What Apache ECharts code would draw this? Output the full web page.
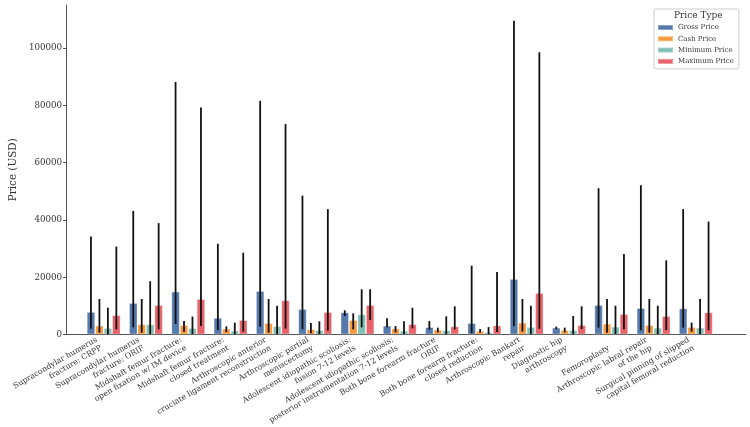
<!DOCTYPE html>
<html>
<head>
<meta charset="utf-8">
<script src="https://cdn.jsdelivr.net/npm/echarts@6/dist/echarts.min.js"></script>
<style>
  html, body { margin: 0; padding: 0; background: #fff; }
  #priceChart { width: 750px; height: 427px; }
</style>
</head>
<body>
<div id="priceChart"></div>
<script>
const categories = [
  'Supracondylar humerus\nfracture: CRPP',
  'Supracondylar humerus\nfracture: ORIF',
  'Midshaft femur fracture:\nopen fixation w/ IM device',
  'Midshaft femur fracture:\nclosed treatment',
  'Arthroscopic anterior\ncruciate ligament reconstruction',
  'Arthroscopic partial\nmeniscectomy',
  'Adolescent idiopathic scoliosis:\nfusion 7-12 levels',
  'Adolescent idiopathic scoliosis:\nposterior instrumentation 7-12 levels',
  'Both bone forearm fracture\nORIF',
  'Both bone forearm fracture:\nclosed reduction',
  'Arthroscopic Bankart\nrepair',
  'Diagnostic hip\narthroscopy',
  'Femoroplasty',
  'Arthroscopic labral repair\nof the hip',
  'Surgical pinning of slipped\ncapital femoral reduction'
]
const seriesNames = ['Gross Price', 'Cash Price', 'Minimum Price', 'Maximum Price']
const colors = ['#5679ab', '#f59a3e', '#80bfb6', '#e8646b']

// bar heights
const gross = [7900, 11000, 15000, 5800, 15200, 8900, 7750, 3100, 2600, 4000, 19400, 2400, 10300, 9250, 9150]
const cash = [3100, 3550, 3300, 2050, 4000, 1900, 5050, 2150, 1700, 1200, 4150, 1550, 3800, 3300, 2600]
const minimum = [2250, 3550, 2250, 1350, 2950, 1550, 7050, 1350, 1450, 850, 2600, 1550, 2750, 2400, 2400]
const maximum = [6800, 10300, 12400, 5050, 11950, 7850, 10300, 3650, 2850, 3200, 14500, 3300, 7150, 6450, 7750]

// error bar ends
const grossLow = [2000, 2500, 3650, 1550, 2750, 1800, 6450, 2500, 1700, 400, 2950, 1900, 2400, 1450, 2400]
const grossHigh = [34200, 43200, 88200, 31700, 81600, 48500, 8450, 5650, 4700, 24050, 109600, 2750, 51100, 52150, 43800]
const cashLow = [650, 600, 1000, 850, 650, 400, 1800, 750, 750, 650, 1000, 750, 650, 650, 1000]
const cashHigh = [12400, 12400, 4700, 2850, 12400, 4000, 7400, 2950, 2400, 1900, 12400, 2400, 12400, 12400, 4150]
const minLow = [100, 100, 100, 100, 100, 100, 2500, 100, 100, 100, 100, 100, 100, 100, 100]
const minHigh = [9350, 18600, 6250, 4150, 10050, 4600, 15800, 4600, 6350, 2600, 10050, 6450, 10050, 10050, 12400]
const maxLow = [1800, 1800, 3000, 1000, 2050, 1350, 5050, 2150, 1800, 850, 2050, 1900, 1800, 1550, 1450]
const maxHigh = [30700, 38900, 79300, 28600, 73500, 43800, 15800, 9350, 9850, 21850, 98600, 9850, 28150, 25900, 39450]

const yTicks = [0, 20000, 40000, 60000, 80000, 100000]
const yMax = 115100

const values = [gross, cash, minimum, maximum]
const lows = [grossLow, cashLow, minLow, maxLow]
const highs = [grossHigh, cashHigh, minHigh, maxHigh]

const font = 'DejaVu Serif'
const textColor = '#333'
const axisColor = '#555'

// one row per error bar: [category, series, low, high]
const errData = []
values.forEach((v, s) => {
  v.forEach((_, i) => {
    errData.push([i, s, lows[s][i], highs[s][i]])
  })
})

const barSeries = seriesNames.map((name, s) => ({
  name: name,
  type: 'bar',
  xAxisIndex: 1,
  yAxisIndex: 1,
  data: values[s],
  barGap: '0%',
  barCategoryGap: '20%',
  itemStyle: {
    color: colors[s],
    borderColor: 'rgba(255,255,255,0.3)',
    borderWidth: 1,
  },
  emphasis: { disabled: true },
}))

const errSeries = {
  type: 'custom',
  xAxisIndex: 1,
  yAxisIndex: 1,
  z: 5,
  silent: true,
  data: errData,
  encode: { x: 0, y: [2, 3] },
  renderItem: function (params, api) {
    const band = api.size([1, 0])[0]
    const barW = band * 0.8 / 4
    const off = (api.value(1) - 1.5) * barW
    const lo = api.coord([api.value(0), api.value(2)])
    const hi = api.coord([api.value(0), api.value(3)])
    return {
      type: 'line',
      shape: { x1: lo[0] + off, y1: lo[1], x2: hi[0] + off, y2: hi[1] },
      style: { stroke: '#111', lineWidth: 1.8 },
    }
  },
}

const myChart = echarts.init(document.getElementById('priceChart'))
const option = {
  animation: false,
  textStyle: { fontFamily: font },
  title: {
    text: 'Price Type',
    left: 674,
    top: 11,
    padding: 0,
    textStyle: { fontFamily: font, fontSize: 9, fontWeight: 'normal', color: textColor },
  },
  legend: {
    data: seriesNames,
    orient: 'vertical',
    left: 654,
    top: 9,
    padding: [14, 5, 3, 3],
    itemGap: 2.3,
    itemWidth: 15,
    itemHeight: 5,
    icon: 'rect',
    borderColor: '#ccc',
    borderWidth: 1,
    borderRadius: 2,
    backgroundColor: 'rgba(255,255,255,0.85)',
    textStyle: { fontFamily: font, fontSize: 7, color: textColor, lineHeight: 9 },
  },
  grid: [
    { left: 56, right: 4, top: 5, bottom: 92.5 },
    { left: 82.5, right: 33, top: 5, bottom: 92.5 },
  ],
  xAxis: [
    {
      type: 'value',
      gridIndex: 0,
      min: 0,
      max: 1,
      axisLine: { show: true, lineStyle: { color: axisColor, width: 1 } },
      axisTick: { show: false },
      axisLabel: { show: false },
      splitLine: { show: false },
    },
    {
      type: 'category',
      gridIndex: 1,
      data: categories,
      axisLine: { show: false },
      axisTick: { show: false },
      axisLabel: {
        interval: 0,
        rotate: 30,
        align: 'right',
        verticalAlign: 'bottom',
        margin: 17,
        fontFamily: font,
        fontSize: 7.8,
        lineHeight: 9.4,
        color: textColor,
        hideOverlap: false,
      },
      splitLine: { show: false },
    },
  ],
  yAxis: [
    {
      type: 'value',
      gridIndex: 0,
      min: 0,
      max: yMax,
      name: 'Price (USD)',
      nameLocation: 'middle',
      nameGap: 45,
      nameTextStyle: { fontFamily: font, fontSize: 10.4, color: textColor },
      axisLine: { show: true, lineStyle: { color: axisColor, width: 1 } },
      axisTick: { show: true, length: 3, lineStyle: { color: axisColor }, customValues: yTicks },
      axisLabel: {
        fontFamily: font,
        fontSize: 8.7,
        color: textColor,
        margin: 4,
        customValues: yTicks,
        formatter: (v) => String(v),
      },
      splitLine: { show: false },
    },
    {
      type: 'value',
      gridIndex: 1,
      min: 0,
      max: yMax,
      show: false,
      splitLine: { show: false },
    },
  ],
  series: [...barSeries, errSeries],
}

myChart.setOption(option)
</script>
</body>
</html>
